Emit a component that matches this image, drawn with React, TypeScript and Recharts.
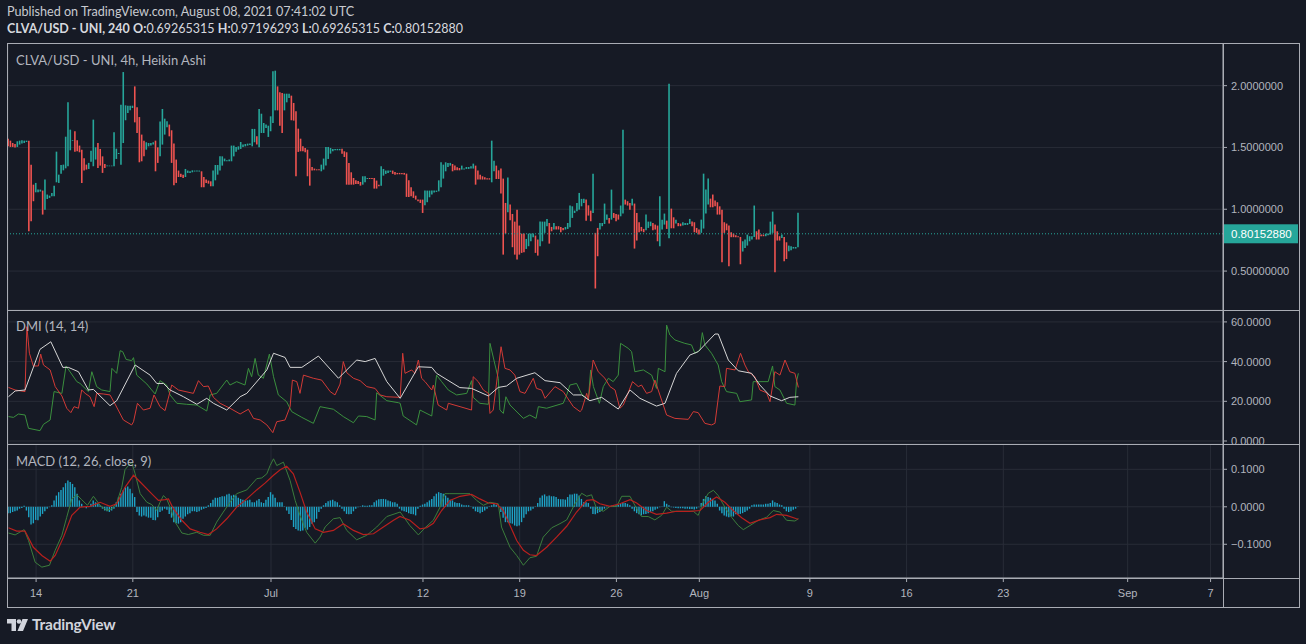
import React from 'react';
import { ComposedChart, Bar, Line, XAxis, YAxis, CartesianGrid, ReferenceLine, Cell } from 'recharts';

// ---------------- DATA ----------------
// Heikin Ashi 4h candles, index 0 = Jun 12 00:00 UTC, one step = 4 hours
const haHigh = [
  1.571,1.555,1.536,1.528,1.550,1.555,1.558,1.555,1.555,1.555,
  1.361,1.199,1.213,1.159,1.159,1.151,1.240,1.119,1.110,1.132,
  1.191,1.466,1.280,1.358,1.361,1.587,1.865,1.644,1.558,1.631,
  1.558,1.515,1.482,1.412,1.361,1.375,1.474,1.725,1.501,1.536,
  1.488,1.428,1.366,1.353,1.353,1.353,1.623,1.490,1.455,1.846,
  2.110,1.841,1.838,1.838,1.838,1.994,1.825,1.746,1.604,1.555,
  1.542,1.536,1.536,1.542,1.555,1.501,1.709,1.811,1.733,1.711,
  1.685,1.639,1.531,1.402,1.313,1.288,1.280,1.326,1.313,1.307,
  1.315,1.313,1.313,1.313,1.307,1.261,1.240,1.232,1.226,1.313,
  1.358,1.358,1.428,1.428,1.410,1.396,1.402,1.515,1.515,1.504,
  1.509,1.544,1.523,1.528,1.531,1.531,1.650,1.650,1.590,1.811,
  1.773,1.698,1.685,1.676,1.752,2.116,2.121,1.994,1.946,1.941,
  1.935,1.935,1.935,1.919,1.860,1.792,1.652,1.571,1.509,1.496,
  1.482,1.410,1.342,1.329,1.323,1.323,1.361,1.410,1.504,1.504,
  1.496,1.488,1.488,1.488,1.488,1.490,1.469,1.461,1.375,1.299,
  1.253,1.234,1.229,1.221,1.267,1.267,1.253,1.253,1.253,1.253,
  1.232,1.199,1.348,1.326,1.313,1.313,1.313,1.313,1.302,1.294,
  1.294,1.294,1.294,1.288,1.234,1.178,1.145,1.110,1.078,1.078,
  1.078,1.151,1.151,1.151,1.151,1.151,1.151,1.234,1.380,1.361,
  1.380,1.375,1.375,1.366,1.353,1.340,1.334,1.353,1.329,1.342,
  1.342,1.348,1.369,1.353,1.313,1.280,1.267,1.259,1.251,1.251,
  1.555,1.393,1.353,1.315,1.329,1.248,1.051,1.256,1.038,0.962,
  0.900,0.997,0.868,0.803,0.803,0.760,0.803,0.803,0.803,0.787,
  0.755,0.900,0.900,0.900,0.922,0.889,0.857,0.889,0.863,0.863,
  0.857,0.849,0.857,0.889,1.030,1.024,0.989,1.051,1.132,1.084,
  1.084,1.078,1.032,0.989,1.288,0.809,0.849,0.889,0.889,1.046,
  0.957,0.930,1.159,0.970,0.962,0.957,1.030,1.644,1.078,1.065,
  1.051,1.084,1.046,0.970,0.895,0.857,0.841,0.957,0.900,0.900,
  0.889,0.876,0.868,1.105,0.916,0.965,0.908,2.016,1.005,0.935,
  0.916,0.889,0.884,0.895,0.889,0.889,0.922,0.900,0.895,0.849,
  0.836,0.916,1.288,1.159,1.248,1.086,1.119,1.070,1.057,1.024,
  0.997,0.895,0.884,0.868,0.814,0.803,0.790,0.782,0.776,0.741,
  0.755,0.795,0.782,0.782,1.030,0.822,0.836,0.795,0.795,0.803,
  0.803,0.900,0.981,0.876,0.822,0.782,0.795,0.776,0.733,0.706,
  0.701,0.695,0.695,0.972,
];
const haLow = [
  1.509,1.504,1.504,1.499,1.504,1.523,1.531,1.536,1.544,0.822,
  0.903,1.065,1.137,1.137,1.143,0.957,0.997,1.083,1.092,1.105,
  1.105,1.218,1.213,1.288,1.315,1.331,1.348,1.477,1.552,1.466,
  1.469,1.461,1.213,1.313,1.321,1.326,1.385,1.348,1.402,1.334,
  1.353,1.294,1.334,1.348,1.348,1.348,1.348,1.407,1.447,1.361,
  1.536,1.720,1.779,1.800,1.819,1.703,1.617,1.380,1.388,1.428,
  1.482,1.509,1.515,1.523,1.307,1.375,1.428,1.523,1.604,1.663,
  1.590,1.375,1.194,1.213,1.261,1.261,1.253,1.261,1.294,1.294,
  1.299,1.305,1.305,1.305,1.178,1.178,1.213,1.207,1.186,1.186,
  1.234,1.280,1.313,1.353,1.388,1.388,1.388,1.388,1.428,1.466,
  1.482,1.488,1.504,1.509,1.515,1.520,1.509,1.542,1.523,1.501,
  1.617,1.617,1.658,1.585,1.631,1.698,1.800,1.800,1.676,1.617,
  1.800,1.865,1.900,1.720,1.717,1.267,1.464,1.469,1.469,1.461,
  1.267,1.191,1.313,1.315,1.315,1.315,1.307,1.321,1.353,1.407,
  1.450,1.469,1.477,1.477,1.477,1.450,1.423,1.199,1.199,1.199,
  1.199,1.205,1.205,1.191,1.199,1.218,1.245,1.245,1.245,1.167,
  1.167,1.186,1.191,1.272,1.286,1.294,1.302,1.286,1.280,1.283,
  1.283,1.283,1.280,1.100,1.100,1.105,1.092,1.078,1.065,1.051,
  0.970,1.032,1.057,1.097,1.119,1.135,1.140,1.145,1.178,1.248,
  1.307,1.342,1.353,1.307,1.315,1.315,1.315,1.321,1.321,1.326,
  1.326,1.329,1.329,1.199,1.240,1.240,1.240,1.240,1.240,1.240,
  1.218,1.307,1.245,1.245,1.127,0.633,0.803,0.976,0.911,0.693,
  0.633,0.593,0.633,0.647,0.652,0.679,0.701,0.741,0.774,0.647,
  0.625,0.701,0.741,0.809,0.863,0.722,0.822,0.836,0.836,0.836,
  0.814,0.830,0.836,0.841,0.854,0.930,0.970,0.984,0.997,1.024,
  1.051,0.908,0.949,0.903,0.970,0.359,0.620,0.836,0.863,0.881,
  0.916,0.884,0.916,0.930,0.903,0.916,0.943,0.965,1.038,1.030,
  0.997,1.030,0.682,0.747,0.814,0.822,0.814,0.830,0.849,0.863,
  0.830,0.836,0.741,0.701,0.836,0.876,0.841,0.766,0.846,0.846,
  0.884,0.863,0.863,0.868,0.873,0.873,0.881,0.863,0.814,0.809,
  0.795,0.809,0.844,0.965,1.038,1.016,1.016,1.024,0.957,0.957,
  0.571,0.809,0.830,0.539,0.774,0.774,0.774,0.774,0.555,0.658,
  0.687,0.706,0.741,0.755,0.776,0.755,0.755,0.782,0.782,0.782,
  0.790,0.795,0.809,0.491,0.747,0.747,0.768,0.580,0.598,0.660,
  0.668,0.682,0.682,0.693,
];
// g = rising (teal) candle, r = falling (red) candle
const haDir = (
  'rrrrgggggr' + 'rrgggrgggg' + 'gggggggggr' + 'rrrrrggggr' + 'rrrggggggg' +
  'gggggrrrrr' + 'ggggrrgggg' + 'rrrrrrrggg' + 'ggggrrrrrg' + 'gggggggggg' +
  'ggggggggrg' + 'gggggggrrr' + 'gggrrrrrrr' + 'rrrrrrgggg' + 'gggggrrrrr' +
  'rrrrgggrrr' + 'rrgggggrrr' + 'rrrrrrrrrr' + 'rggggggggg' + 'gggrrrrggg' +
  'gggrrrrrrr' + 'ggrrrrrgrr' + 'rrrrrggggr' + 'rggggrrgrr' + 'rrgggggggg' +
  'grrrgrrggg' + 'grgrrrggrr' + 'rgrrrrrggg' + 'rrrgggrgrr' + 'grrggggrrr' +
  'rggggrrrrr' + 'rrrrrrrrrg' + 'gggggrrrrg' + 'gggrrrgrrg' + 'gggg'
).split('');

const lastOpen = 0.69265315;
const lastHigh = 0.97196293;
const lastLow = 0.69265315;
const lastClose = 0.8015288;

// DMI (14,14): [candle index, value]
const adxPts = [[0,22.3],[2.9,25.2],[7.2,25.7],[13.7,46.2],[18.4,50],[23.6,37.1],[26,37.1],[30.4,34.9],[34.7,25.7],[36.9,26],[44.1,17.8],[47,20.3],[55,38.3],[61.5,33.2],[64.4,29],[67.3,29],[70.2,25.7],[76,22.3],[81.8,18.5],[86.1,21.5],[89,19],[94.8,15.6],[100.6,22.3],[103.5,24],[112.2,35.8],[115.1,44.2],[120.1,42.1],[122.3,37.1],[127.4,37.1],[134.6,42.8],[143.3,31.6],[151.2,40.8],[154.9,40],[159.2,41.6],[164.3,29.9],[170.1,21.5],[178,37.4],[183.8,37.1],[185.9,34.1],[196,26.9],[201.1,26.5],[208.4,22.7],[212.7,27],[216.3,27.7],[220.7,31.6],[228.6,34.4],[233,30.4],[239.5,29.4],[245.3,23.2],[248.9,23.2],[252.5,20.3],[257.6,22],[264.8,16.1],[269.9,25.7],[274.2,21.5],[281.4,17.6],[285.1,19],[290.1,34.1],[295.9,43.3],[299.5,45],[306.8,53.9],[308.2,53.9],[312.6,40.8],[316.9,35.4],[322.7,34.1],[326.3,28.2],[330.7,22.7],[335.7,20.3],[339.3,22],[343,22.3]];
const plusDiPts = [[0,12.3],[2.2,11.9],[4.3,13.6],[7.2,13.1],[8.7,6.4],[13.7,5.2],[15.2,8.4],[18.1,10.6],[19.8,24.9],[23.2,24],[25,37.8],[29.7,29.9],[31.1,29],[34.7,24.9],[36.2,34.9],[38.3,27.4],[40.5,25.7],[44.1,24.9],[44.9,36.6],[47,34.1],[48.5,45.5],[49.6,45],[51.1,41.1],[53.5,40.5],[54.3,42],[55.7,33.2],[60.1,28.7],[62.2,25.7],[63.7,23.7],[65.8,30.4],[68.7,28.2],[70.2,23.2],[73.1,19],[77.4,18.5],[81.8,18.1],[86.1,15.1],[87.6,23.2],[90.4,24],[94.8,30.7],[96.2,28.2],[99.1,29.9],[102.7,28.2],[104.2,36.6],[105.6,32.4],[107.1,41.6],[108.5,33.2],[110.7,31.6],[113.3,43.8],[115.1,32.4],[117.2,23.2],[120.8,19.8],[123,14.8],[127.4,11.9],[132.4,8.9],[135.3,17.3],[141.1,16],[145.4,12.3],[149.8,9.2],[152,12.6],[155.6,12.3],[159.2,10.6],[159.9,24.3],[164.3,20.3],[169.3,19.3],[170.1,19],[171.4,12.6],[177.2,8.1],[178.7,15.6],[183.8,12.6],[185.9,33.2],[188.1,29.9],[191,25.7],[194.6,23.2],[199,24],[201.1,30.4],[201.8,22],[204.7,19],[208.4,18.5],[209.1,49.2],[211.3,38.3],[212.7,31.6],[213.4,15.6],[214.9,13.9],[216,22.3],[217.8,18.1],[223.6,11.4],[226.4,13.1],[229.1,11.4],[230.1,17.3],[233.7,16.5],[240.9,19],[242.4,23.2],[243.8,28.2],[246.7,29],[248.9,23.7],[251.8,20.7],[252.8,35.8],[254,27.4],[256.6,19],[258.3,27.4],[260.5,31.6],[262.6,29.9],[264.8,33.2],[265.8,49.2],[269.1,46.7],[270.6,45],[272,34.9],[275.7,35.8],[279.3,33.2],[281.4,26.5],[282.2,36.6],[285.1,34.9],[285.8,58.4],[287.2,53.4],[289.4,50.9],[293.7,49.2],[296.6,48.4],[298.1,44.2],[300.3,45.8],[301.3,54.6],[302.4,48.4],[305.3,44.2],[308.2,38.3],[309.7,29.9],[311.8,24.9],[316.2,24],[317.6,19.8],[322.7,20.7],[323.4,29.9],[329.9,29.9],[331.8,37.8],[332.8,27.4],[335,25.7],[337.9,19],[341.5,18.1],[342.2,29.9],[343,34.1]];
const minusDiPts = [[0,27],[2.9,25.7],[7.2,24.9],[8,57.6],[9.1,44.2],[10.8,37.8],[13,37.8],[14,43.8],[15.2,38.3],[18.1,35.8],[20.3,27.4],[23.2,22.7],[25.3,16.5],[27.1,14.3],[28.5,17.3],[30.4,16.5],[31.8,25.7],[33.3,24],[35.4,22.3],[37.2,17.3],[38.3,24],[41.2,23.7],[44.1,23.2],[46.3,18.6],[49.9,10.6],[53.5,8.1],[54.3,9.7],[56,19],[58.6,15.6],[61.5,16.5],[63.2,23.2],[65.8,17.3],[68,15.3],[70.9,28.2],[73.8,25.7],[80.3,24],[82.5,30.4],[84.7,27.4],[86.8,27.7],[89,22],[91.9,19],[96.2,16.5],[100.6,13.6],[104.2,16],[106.4,11.4],[109.3,10.6],[112.2,8.1],[114.8,4.2],[116.5,9.7],[120.1,10.6],[122.3,17.3],[123.3,30.7],[125.2,29.9],[126.6,24],[128.1,33.2],[132.4,31.6],[136,30.7],[139.7,24.9],[141.8,23.2],[144,28.7],[145.4,40],[146.9,34.4],[149.8,31.6],[152.7,30.4],[155.6,27.4],[159.2,26.5],[161.4,23.2],[164.3,22.3],[170.1,22],[171.2,44.2],[172.2,34.1],[175.1,35.8],[176.5,34.1],[178,40.8],[179.4,31.6],[180.9,29.9],[183.8,25.7],[184.5,28.2],[186.6,18.1],[190.3,15.6],[191,19],[196.1,17.3],[201.1,15.6],[201.8,32.4],[204,29.9],[206.2,25.7],[208.4,24],[209.1,13.9],[210.5,15.6],[213.9,47.5],[215.6,36.6],[217.8,35.8],[219.9,33.2],[222.1,24.9],[224.3,24],[227.9,31.6],[229.3,26.5],[231.5,25.7],[233,21.5],[237.3,27.4],[240.9,24.9],[245.3,17.3],[248.2,14.8],[248.9,15.6],[251.1,24],[251.8,20.7],[253.9,40.8],[256.1,34.9],[259,31.6],[261.2,27.4],[263.4,25.7],[265.5,16.5],[267,18.1],[271,29.9],[273.5,27.4],[274.9,28.2],[277.1,24],[279.3,24.9],[280.7,30.7],[285.8,13.1],[289.4,11.4],[295.2,10.9],[297.4,14.8],[299.5,14.3],[302.4,8.9],[305.3,8.1],[306.8,8.9],[308.9,27.7],[311.1,27.4],[311.8,36.6],[315.5,35.8],[317.9,44.2],[319.8,38.3],[321.3,34.9],[324.1,32.4],[326.3,25.7],[329.2,24.3],[330.7,19.8],[332.8,34.9],[335,33.2],[337.2,40.8],[339.3,34.9],[341.5,34.1],[343,27]];

// MACD (12,26,close,9), values in thousandths
const macdPtsX1000 = [[0,-70],[2.9,-75],[6.8,-61],[8.7,-90],[11.6,-148],[14.5,-161],[17.8,-156],[20.3,-116],[23.2,-76],[25.3,-28],[27.5,21],[29.7,32],[31.8,19],[34.3,4],[36.9,28],[39.8,4],[42.7,-10],[44.9,-5],[47,10],[49.2,52],[50.6,99],[52.1,110],[53.5,119],[55,88],[57.2,35],[60.1,12],[62.2,6],[64.4,-10],[65.8,12],[67.3,30],[68.7,21],[70.2,-1],[72.4,-41],[75.3,-70],[78.1,-74],[81.8,-68],[84.7,-76],[87.6,-76],[90.4,-41],[93.3,-14],[96.2,12],[99.1,35],[103.5,45],[107.8,75],[110,77],[112.2,88],[113.6,110],[115.1,128],[116.5,110],[119.4,119],[122.3,70],[124.5,17],[126.6,-23],[129.5,-68],[133.2,-97],[135.3,-81],[137.5,-54],[141.1,-32],[144,-29],[146.9,-63],[151.2,-88],[155.6,-76],[159.9,-54],[164.3,-26],[170.1,-14],[174.3,-50],[178,-75],[180.9,-56],[184.5,-36],[187.4,-1],[189.5,35],[191.7,35],[200.4,35],[203.3,17],[206.2,4],[209.1,12],[212.7,8],[214.1,-54],[217.8,-108],[220.7,-130],[223.6,-156],[226.4,-136],[229.3,-132],[232.2,-81],[235.9,-56],[239.5,-45],[242.4,-35],[246,8],[248.9,36],[251.1,28],[253.2,32],[255.4,-5],[258.3,-12],[261.2,1],[264.1,1],[266.3,28],[269.9,28],[272.8,-5],[274.9,-26],[277.8,-26],[280.7,-35],[283.6,-23],[285.8,-1],[288,-12],[293,-12],[297.4,-12],[299.5,-23],[301.7,12],[303.9,36],[306.1,44],[308.2,30],[311.1,-1],[314,-28],[316.9,-50],[319.1,-61],[322,-50],[325.6,-36],[329.2,-28],[332.1,-10],[335,-14],[337.9,-36],[341.5,-38],[343,-32]];
const signalPtsX1000 = [[0,-56],[3.6,-65],[7.2,-65],[10.8,-108],[14.5,-130],[18.1,-145],[20.3,-130],[23.9,-81],[27.5,-23],[31.1,-1],[35.4,1],[39.8,12],[44.1,1],[47,8],[50.6,52],[54.3,84],[57.2,66],[61.5,39],[65.1,17],[68,19],[69.5,21],[71.6,-5],[75.3,-36],[78.9,-59],[83.2,-68],[86.8,-74],[90.4,-59],[94.8,-32],[99.1,-1],[103.5,21],[107.8,45],[111.4,63],[115.1,84],[118,99],[120.8,108],[123.7,88],[126.6,39],[129.5,-14],[133.2,-59],[136.8,-68],[141.1,-63],[145.4,-45],[149.8,-63],[154.1,-74],[158.5,-72],[162.8,-54],[167.2,-36],[170,-26],[174.3,-36],[178.7,-59],[181.6,-56],[184.5,-44],[188.1,-10],[191.7,17],[196.1,28],[201.1,33],[204.7,21],[208.4,10],[212,8],[214.9,-10],[217.8,-50],[220.7,-90],[223.6,-116],[226.4,-128],[229.3,-130],[233.7,-108],[238,-81],[242.4,-52],[246.7,-14],[251.1,17],[253.9,19],[256.8,8],[261.2,1],[265.5,8],[269.9,19],[272.8,10],[277.1,-10],[281.4,-20],[285.8,-17],[290.1,-12],[295.9,-12],[300.3,-10],[303.9,12],[307.5,26],[311.1,12],[314.7,-10],[318.4,-29],[322,-44],[326.3,-35],[330.7,-29],[333.6,-20],[337.9,-23],[342.2,-32],[343,-33]];
const macdHistX1000 = [
  -17,-17,-14,-12,-10,-5,-3,3,
  -10,-28,-47,-44,-35,-36,-26,-19,-12,-5,-1,
  4,17,30,39,45,52,63,70,66,61,52,35,17,8,
  1,-4,-1,8,17,12,8,4,
  -5,-10,-12,-14,-10,-5,
  12,26,35,44,52,54,48,36,26,
  -14,-23,-26,-23,-26,-29,-29,-35,-36,-28,-14,-10,-5,
  -8,-19,-29,-41,-44,-45,-41,-32,-26,-20,-17,-12,-12,-14,-12,-8,-5,-3,
  4,10,19,24,24,26,28,28,33,35,30,32,30,24,21,19,17,17,19,12,12,17,21,12,10,19,26,39,33,24,12,12,12,1,
  -10,-19,-35,-54,-59,-63,-65,-63,-56,-61,-54,-45,-41,-32,-14,-5,
  4,10,15,17,19,15,12,4,
  -5,-12,-19,-20,-19,-12,-5,-1,
  1,4,3,3,4,4,
  12,17,20,21,21,20,17,15,12,12,8,
  -5,-10,-12,-14,-17,-19,-20,-23,
  -5,
  3,6,8,12,17,21,28,35,39,37,35,30,24,19,17,12,10,10,6,4,4,4,1,
  -5,-12,-14,-17,-14,-10,-5,
  1,4,8,5,-1,
  -14,-29,-41,-41,-44,-45,-50,-52,-50,-41,-29,-20,-12,-10,-5,
  1,10,24,30,33,28,30,28,28,26,21,20,20,19,26,33,33,35,35,30,21,12,12,10,
  -5,-19,-20,-17,-14,-10,-5,-1,
  1,3,3,4,5,8,10,10,8,4,
  -5,-12,-17,-20,-23,-20,-19,-17,-14,-12,-8,-5,
  -1,1,15,8,4,
  -1,-2,-3,-4,-4,-4,-5,-5,-6,-6,-7,-5,-1,
  10,21,28,26,24,21,17,8,
  -10,-17,-23,-26,-28,-26,-26,-20,-20,-19,-17,-14,-10,-5,
  4,6,6,6,6,6,8,8,10,17,12,10,6,4,
  -5,-12,-14,-12,-8,-5,1,
];

// time axis (candle index of each midnight tick) and labels
const dateTicks = [12, 54, 114, 180, 222, 264, 300, 348, 390, 432, 486, 522];
const dateLabels = ['14', '21', 'Jul', '12', '19', '26', 'Aug', '9', '16', '23', 'Sep', '7'];
const priceTicks = [0.5, 1, 1.5, 2];
const priceTickLabels = ['0.50000000', '1.0000000', '1.5000000', '2.0000000'];
const dmiTicks = [0, 20, 40, 60];
const macdTicks = [-0.1, 0, 0.1];

// ---------------- STYLE ----------------
const BG = '#161a25';
const GRID = '#282c37';
const FRAME = '#a9acb4';
const TEXT = '#b2b5be';
const TEAL = '#26a69a';
const RED = '#ef5350';
const AXIS_FONT = '"Liberation Sans", Arial, sans-serif';
const UI_FONT = 'Lato, "Noto Sans", sans-serif';
const X_DOMAIN: [number, number] = [-0.2, 527.4];
const AXIS_W = 83;
const tickStyle = { fill: TEXT, fontSize: 11, fontFamily: AXIS_FONT };

const candles = haHigh.map((h, k) => ({ i: k, range: [haLow[k], h], up: haDir[k] === 'g' }));
const toRows = (pts: number[][], scale = 1) => pts.map(([i, v]) => ({ i, v: v / scale }));
const adxData = toRows(adxPts);
const plusData = toRows(plusDiPts);
const minusData = toRows(minusDiPts);
const macdData = toRows(macdPtsX1000, 1000);
const signalData = toRows(signalPtsX1000, 1000);
const histData = macdHistX1000.map((v, k) => ({ i: k, h: v / 1000 }));

const PriceTag = (props: any) => {
  const vb = props.viewBox || {};
  const x = (vb.x || 0) + (vb.width || 0);
  const y = vb.y || 0;
  return (
    <g>
      <rect x={x} y={y - 9.5} width={75} height={19} fill={TEAL} />
      <text x={x + 8} y={y + 4} fill="#ffffff" fontSize={11.5} fontFamily={AXIS_FONT}>
        {lastClose.toFixed(8)}
      </text>
    </g>
  );
};

const hiddenX = (
  <XAxis type="number" dataKey="i" domain={X_DOMAIN} allowDataOverflow ticks={dateTicks} interval={0}
    height={0} tick={false} tickLine={false} axisLine={false} />
);

export default function App() {
  return (
    <div style={{ position: 'fixed', left: 0, top: 0, width: 1306, height: 644, background: BG, overflow: 'hidden', fontFamily: UI_FONT }}>
      {/* header */}
      <div style={{ position: 'absolute', left: 7, top: 4, color: '#c8cad0', fontSize: 12.6, whiteSpace: 'nowrap' }}>
        Published on TradingView.com, August 08, 2021 07:41:02 UTC
      </div>
      <div style={{ position: 'absolute', left: 7, top: 21, color: '#d6d8de', fontSize: 12.5, whiteSpace: 'nowrap' }}>
        <b>CLVA/USD - UNI, 240</b> <b>O:</b>{lastOpen.toFixed(8)} <b>H:</b>{lastHigh.toFixed(8)} <b>L:</b>{lastLow.toFixed(8)} <b>C:</b>{lastClose.toFixed(8)}
      </div>

      {/* main price pane */}
      <div style={{ position: 'absolute', left: 0, top: 43, width: 1306, height: 267 }}>
        <ComposedChart width={1306} height={267} data={candles} margin={{ top: 0, right: 0, bottom: 0, left: 8 }}>
          <CartesianGrid stroke={GRID} />
          {hiddenX}
          <YAxis orientation="right" width={AXIS_W} domain={[0.185, 2.345]} allowDataOverflow ticks={priceTicks} interval={0}
            tickFormatter={(v: number) => priceTickLabels[priceTicks.indexOf(v)]} tick={tickStyle}
            tickLine={{ stroke: FRAME }} tickSize={4} tickMargin={4} axisLine={{ stroke: FRAME }} />
          <ReferenceLine y={lastClose} stroke={TEAL} strokeDasharray="1 2" label={<PriceTag />} />
          <Bar dataKey="range" barSize={1.6} isAnimationActive={false}>
            {candles.map((c, k) => <Cell key={k} fill={c.up ? TEAL : RED} />)}
          </Bar>
        </ComposedChart>
      </div>

      {/* DMI pane */}
      <div style={{ position: 'absolute', left: 0, top: 310, width: 1306, height: 134 }}>
        <ComposedChart width={1306} height={134} margin={{ top: 0, right: 0, bottom: 0, left: 8 }}>
          <CartesianGrid stroke={GRID} />
          {hiddenX}
          <YAxis orientation="right" width={AXIS_W} domain={[-1.51, 66]} allowDataOverflow ticks={dmiTicks} interval={0}
            tickFormatter={(v: number) => v.toFixed(4)} tick={tickStyle}
            tickLine={{ stroke: FRAME }} tickSize={4} tickMargin={4} axisLine={{ stroke: FRAME }} />
          <Line data={plusData} dataKey="v" stroke="#3a8f3e" strokeWidth={1} dot={false} isAnimationActive={false} />
          <Line data={minusData} dataKey="v" stroke="#d23a36" strokeWidth={1} dot={false} isAnimationActive={false} />
          <Line data={adxData} dataKey="v" stroke="#d6d6d6" strokeWidth={1} dot={false} isAnimationActive={false} />
        </ComposedChart>
      </div>

      {/* MACD pane + time axis */}
      <div style={{ position: 'absolute', left: 0, top: 444, width: 1306, height: 163 }}>
        <ComposedChart width={1306} height={163} data={histData} margin={{ top: 0, right: 0, bottom: 0, left: 8 }}>
          <CartesianGrid stroke={GRID} />
          <XAxis type="number" dataKey="i" domain={X_DOMAIN} allowDataOverflow ticks={dateTicks} interval={0} height={29}
            tickFormatter={(v: number) => dateLabels[dateTicks.indexOf(v)]} tick={tickStyle}
            tickLine={{ stroke: FRAME }} tickSize={4} tickMargin={7} axisLine={{ stroke: FRAME }} />
          <XAxis xAxisId="ln" type="number" dataKey="i" domain={X_DOMAIN} allowDataOverflow hide />
          <YAxis orientation="right" width={AXIS_W} domain={[-0.19, 0.1675]} allowDataOverflow ticks={macdTicks} interval={0}
            tickFormatter={(v: number) => (v < 0 ? '\u2212' + Math.abs(v).toFixed(4) : Math.abs(v).toFixed(4))} tick={tickStyle}
            tickLine={{ stroke: FRAME }} tickSize={4} tickMargin={4} axisLine={{ stroke: FRAME }} />
          <Bar dataKey="h" fill="#1ea3c6" barSize={1.4} isAnimationActive={false} />
          <Line xAxisId="ln" data={macdData} dataKey="v" stroke="#3b7d3c" strokeWidth={1} dot={false} isAnimationActive={false} />
          <Line xAxisId="ln" data={signalData} dataKey="v" stroke="#b8201e" strokeWidth={1.2} dot={false} isAnimationActive={false} />
        </ComposedChart>
      </div>

      {/* pane frames */}
      <svg width={1306} height={644} style={{ position: 'absolute', left: 0, top: 0, pointerEvents: 'none' }}>
        <g stroke={FRAME} strokeWidth={1} fill="none">
          <line x1={7} y1={43.5} x2={1300} y2={43.5} />
          <line x1={7} y1={310.5} x2={1300} y2={310.5} />
          <line x1={7} y1={444.5} x2={1300} y2={444.5} />
          <line x1={7} y1={578.5} x2={1300} y2={578.5} />
          <line x1={7} y1={607.5} x2={1300} y2={607.5} />
          <line x1={7.5} y1={43} x2={7.5} y2={608} />
          <line x1={1223.5} y1={43} x2={1223.5} y2={608} />
          <line x1={1299.5} y1={43} x2={1299.5} y2={608} />
        </g>
        {/* TradingView logo mark */}
        <g fill="#d1d4dc">
          <path d="M7 619 h9 v12 h-4.5 v-7.5 h-4.5 z" />
          <circle cx={19} cy={621.5} r={2.3} />
          <path d="M22.5 619 h5.5 l-5 12 h-5.5 z" />
        </g>
      </svg>

      {/* pane legends */}
      <div style={{ position: 'absolute', left: 16, top: 52, color: TEXT, fontSize: 13, whiteSpace: 'nowrap' }}>CLVA/USD - UNI, 4h, Heikin Ashi</div>
      <div style={{ position: 'absolute', left: 16, top: 318, color: TEXT, fontSize: 13, whiteSpace: 'nowrap' }}>DMI (14, 14)</div>
      <div style={{ position: 'absolute', left: 16, top: 453, color: TEXT, fontSize: 13, whiteSpace: 'nowrap' }}>MACD (12, 26, close, 9)</div>

      {/* footer brand */}
      <div style={{ position: 'absolute', left: 32, top: 615, color: '#d1d4dc', fontSize: 15.5, fontWeight: 700, letterSpacing: -0.2, whiteSpace: 'nowrap' }}>TradingView</div>
    </div>
  );
}
